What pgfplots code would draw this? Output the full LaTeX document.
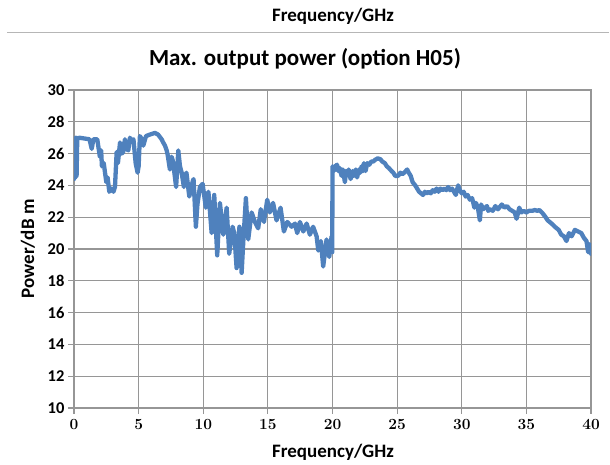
\documentclass[border=0pt]{standalone}
\usepackage{pgfplots}
\pgfplotsset{compat=1.18}
\usepackage{fontspec}
\newfontfamily\carl{Carlito}
\definecolor{xlblue}{RGB}{79,129,189}
\definecolor{gridgray}{RGB}{150,150,150}
\pgfplotstableread{
f p
0.00 24.4
0.05 26.9
0.10 24.5
0.15 27.0
0.20 24.6
0.25 26.9
0.40 27.0
0.80 26.95
1.20 26.9
1.37 26.3
1.50 26.9
1.80 26.9
2.00 25.8
2.10 26.2
2.16 25.2
2.30 25.4
2.40 24.8
2.50 24.2
2.60 24.5
2.73 23.6
2.90 23.8
3.05 23.6
3.17 23.9
3.30 26.1
3.40 25.4
3.56 26.7
3.70 26.0
3.80 26.1
3.94 26.9
4.05 26.3
4.20 26.2
4.33 27.0
4.45 26.8
4.60 26.9
4.77 25.4
4.92 24.8
5.00 25.2
5.10 27.1
5.25 26.9
5.36 26.5
5.57 27.1
5.88 27.2
6.26 27.3
6.50 27.2
6.78 26.9
6.90 26.7
7.04 26.5
7.17 26.2
7.25 25.9
7.42 25.0
7.55 25.8
7.63 25.6
7.75 24.9
7.90 23.9
8.07 26.2
8.20 25.2
8.33 24.8
8.50 23.9
8.60 24.6
8.70 24.8
8.92 23.3
9.05 23.8
9.20 24.3
9.25 24.4
9.43 21.4
9.55 22.8
9.74 23.9
9.95 24.1
10.20 22.6
10.40 23.6
10.65 21.0
10.85 23.4
11.08 19.6
11.29 22.9
11.55 20.9
11.81 22.6
12.01 19.7
12.27 21.4
12.40 21.0
12.58 18.8
12.80 21.4
12.97 18.5
13.10 20.5
13.30 23.2
13.48 20.6
13.74 22.3
14.00 21.7
14.25 21.3
14.45 22.5
14.70 21.7
14.95 23.1
15.15 22.3
15.40 22.9
15.67 21.8
15.98 22.6
16.24 21.1
16.50 21.7
16.84 21.4
17.10 21.6
17.27 21.0
17.48 21.7
17.74 21.1
18.00 21.6
18.25 20.9
18.50 21.4
18.77 20.8
18.90 19.9
19.10 20.5
19.28 18.9
19.54 20.6
19.75 19.5
19.93 20.8
19.98 19.8
20.00 25.2
20.10 24.9
20.20 25.2
20.35 25.3
20.45 24.9
20.55 25.1
20.70 24.6
20.80 25.0
20.96 24.2
21.05 24.9
21.15 24.7
21.25 25.0
21.40 24.4
21.55 24.9
21.65 24.6
21.80 25.0
21.90 24.5
22.05 25.0
22.15 24.8
22.25 25.2
22.35 24.9
22.43 25.4
22.55 24.9
22.70 25.4
22.85 25.3
23.00 25.5
23.15 25.5
23.28 25.6
23.50 25.7
23.70 25.65
23.85 25.5
24.05 25.4
24.20 25.2
24.35 25.1
24.57 24.9
24.70 24.8
24.85 24.6
25.08 24.6
25.25 24.8
25.40 24.7
25.55 24.8
25.78 25.0
25.90 24.8
26.05 24.6
26.20 24.2
26.40 24.0
26.55 23.8
26.70 23.6
26.85 23.5
27.00 23.4
27.15 23.6
27.30 23.5
27.45 23.6
27.60 23.5
27.75 23.7
27.90 23.6
28.05 23.8
28.20 23.6
28.35 23.8
28.50 23.7
28.65 23.8
28.80 23.7
28.95 23.9
29.10 23.7
29.25 23.8
29.40 23.6
29.54 23.4
29.72 24.0
29.85 23.7
30.00 23.5
30.15 23.6
30.30 23.3
30.45 23.4
30.63 23.1
30.80 23.2
30.98 22.6
31.10 22.9
31.25 22.6
31.40 21.8
31.50 22.8
31.65 22.5
31.80 22.6
31.95 22.7
32.05 22.4
32.25 22.5
32.40 22.4
32.60 22.7
32.80 22.5
33.00 22.7
33.10 22.8
33.30 22.6
33.50 22.7
33.70 22.5
33.90 22.4
34.10 22.3
34.24 21.9
34.45 22.6
34.60 22.3
34.80 22.4
35.00 22.3
35.20 22.4
35.45 22.4
35.65 22.45
35.85 22.4
36.00 22.45
36.20 22.3
36.40 22.1
36.65 21.8
36.95 21.6
37.20 21.4
37.50 21.2
37.70 20.9
37.90 20.8
38.10 20.5
38.30 21.0
38.50 20.8
38.75 21.2
39.00 21.1
39.25 21.0
39.45 20.7
39.65 20.5
39.78 19.8
39.90 20.3
40.00 19.7
}\powerdata
\begin{document}
\begin{tikzpicture}[x=1pt,y=1pt]
\path[use as bounding box] (0,0) rectangle (610,465);
\draw[gridgray!70, line width=1pt] (7,432) -- (609,432);
\node[font=\carl\bfseries\fontsize{19}{22}\selectfont] at (333,449) {Frequency/GHz};
\node[font=\carl\bfseries\fontsize{23}{27}\selectfont] at (305,406) {Max. output power (option H05)};
\begin{axis}[
  at={(74pt,57pt)}, anchor=south west,
  width=517pt, height=318pt, scale only axis,
  xmin=0, xmax=40, ymin=10, ymax=30,
  xtick={0,5,...,40}, ytick={10,12,...,30},
  grid=major,
  major grid style={gridgray, line width=1.2pt},
  axis line style={gridgray, line width=1.2pt},
  tick style={gridgray, line width=1.2pt},
  tick align=outside, major tick length=6pt,
  xtick pos=bottom, ytick pos=left,
  /pgf/number format/assume math mode=true,
  xticklabel style={font=\bfseries\fontsize{15.5}{18}\selectfont, yshift=-2pt},
  yticklabel style={font=\carl\bfseries\fontsize{16.5}{18}\selectfont},
]
\addplot[color=xlblue, line width=4.3pt, line join=round, line cap=round] table[x=f, y=p] {\powerdata};
\end{axis}
\node[font=\carl\bfseries\fontsize{19}{22}\selectfont] at (333,12.5) {Frequency/GHz};
\node[font=\carl\bfseries\fontsize{19}{22}\selectfont, rotate=90] at (28,216) {Power/dB m};
\end{tikzpicture}
\end{document}
